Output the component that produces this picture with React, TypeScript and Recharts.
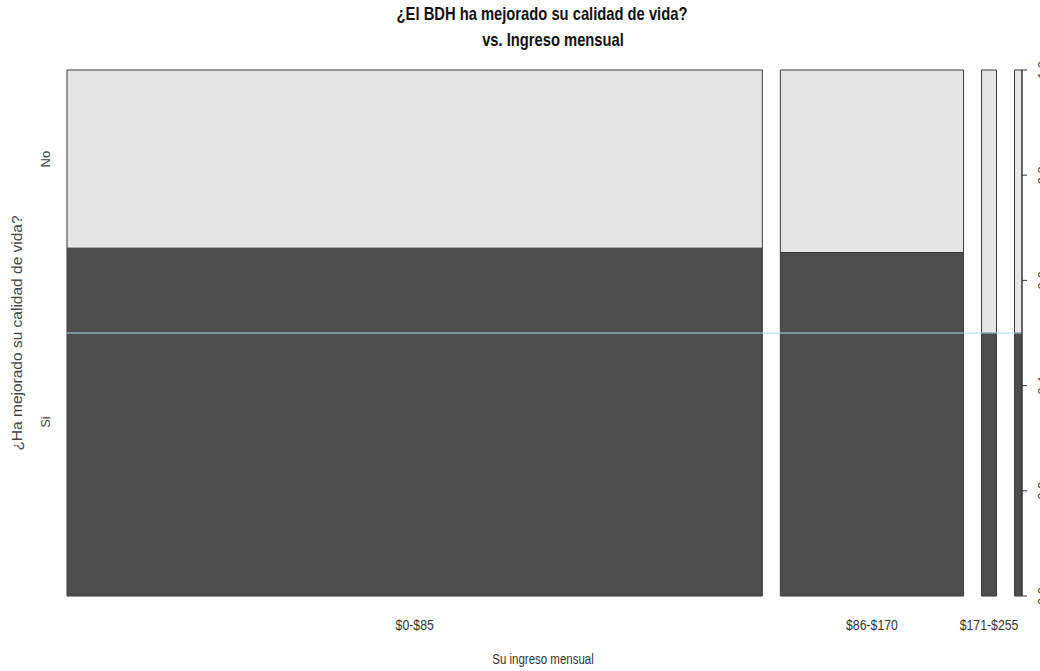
import React from 'react'
import { ComposedChart, XAxis, YAxis, Line, ReferenceArea, ReferenceLine } from 'recharts'

// spineplot: ¿El BDH ha mejorado su calidad de vida? vs. Ingreso mensual
const ingresos = ['$0-$85', '$86-$170', '$171-$255', '$256-$340']
const si = [123, 32, 2, 1]
const no = [63, 17, 2, 1]
const yTicks = [0, 0.2, 0.4, 0.6, 0.8, 1]
// R drops the last x label because it would overlap
const shownLabels = 3

const GAP = 0.02
const total = si.reduce((a, b) => a + b, 0) + no.reduce((a, b) => a + b, 0)

let acc = 0
const cells = ingresos.map((name, i) => {
  const n = si[i] + no[i]
  const w = n / total
  const x0 = acc + i * GAP
  acc += w
  return { name, x0, x1: x0 + w, mid: x0 + w / 2, siFrac: si[i] / n }
})
const xMax = 1 + GAP * (ingresos.length - 1)

const DARK = '#4d4d4d'
const LIGHT = '#e6e6e6'
const EDGE = '#3a3a3a'
const sans = '"Liberation Sans", Arial, sans-serif'
const SQUEEZE = 0.82 // the reference is squashed horizontally

// horizontal text, squeezed like the reference
const NarrowText = ({ x, y, size, bold, fill, children }: any) => (
  <g transform={`translate(${x}, ${y}) scale(${SQUEEZE}, 1)`}>
    <text x={0} y={0} textAnchor="middle" fontFamily={sans} fontSize={size}
      fontWeight={bold ? 'bold' : 'normal'} fill={fill}>
      {children}
    </text>
  </g>
)

const XTick = (props: any) => {
  const { x, y, payload } = props
  const c = cells.find((d) => Math.abs(d.mid - payload.value) < 1e-9)
  return <NarrowText x={x} y={y + 34} size={15} fill="#333">{c ? c.name : ''}</NarrowText>
}

const LeftTick = (props: any) => {
  const { x, y, payload } = props
  const label = payload.value < cells[0].siFrac ? 'Si' : 'No'
  return (
    <text x={x - 17} y={y} transform={`rotate(-90, ${x - 17}, ${y})`} textAnchor="middle"
      fontFamily={sans} fontSize={13} fill="#444">
      {label}
    </text>
  )
}

// the tick labels sit mostly beyond the right edge of the picture, as in the reference
const RightTick = (props: any) => {
  const { x, y, payload } = props
  const tx = x + 18
  return (
    <text x={tx} y={y} transform={`rotate(-90, ${tx}, ${y})`} textAnchor="middle"
      fontFamily={sans} fontSize={13} fill="#444">
      {Number(payload.value).toFixed(1)}
    </text>
  )
}

export default function App() {
  const first = cells[0]
  return (
    <div style={{ position: 'absolute', left: 0, top: 0, width: 1040, height: 671, background: '#fff' }}>
      <ComposedChart width={1040} height={671} data={cells} margin={{ top: 70, right: 0, bottom: 0, left: 0 }}>
        <XAxis
          type="number"
          dataKey="mid"
          domain={[0, xMax]}
          ticks={cells.slice(0, shownLabels).map((d) => d.mid)}
          tick={<XTick />}
          axisLine={false}
          tickLine={false}
          tickSize={0}
          tickMargin={0}
          height={75}
          interval={0}
        />
        <YAxis
          yAxisId="left"
          type="number"
          domain={[0, 1]}
          ticks={[first.siFrac / 2, first.siFrac + (1 - first.siFrac) / 2]}
          tick={<LeftTick />}
          axisLine={false}
          tickLine={false}
          tickSize={0}
          tickMargin={0}
          width={67}
          interval={0}
          allowDataOverflow
        />
        <YAxis
          yAxisId="right"
          orientation="right"
          type="number"
          domain={[0, 1]}
          ticks={yTicks}
          tick={<RightTick />}
          axisLine={{ stroke: '#333' }}
          tickLine={{ stroke: '#333' }}
          tickSize={5}
          width={18}
          interval={0}
          allowDataOverflow
        />
        {/* invisible series so both y axes get their scales */}
        <Line yAxisId="left" dataKey="siFrac" stroke="none" dot={false} activeDot={false} isAnimationActive={false} legendType="none" />
        <Line yAxisId="right" dataKey="siFrac" stroke="none" dot={false} activeDot={false} isAnimationActive={false} legendType="none" />
        {cells.map((c) => (
          <ReferenceArea key={c.name + '-si'} yAxisId="right" x1={c.x0} x2={c.x1} y1={0} y2={c.siFrac}
            fill={DARK} fillOpacity={1} stroke={EDGE} strokeWidth={1} />
        ))}
        {cells.map((c) => (
          <ReferenceArea key={c.name + '-no'} yAxisId="right" x1={c.x0} x2={c.x1} y1={c.siFrac} y2={1}
            fill={LIGHT} fillOpacity={1} stroke={EDGE} strokeWidth={1} />
        ))}
        <ReferenceLine yAxisId="right" y={0.5} stroke="#add8e6" strokeWidth={1.2} />
      </ComposedChart>
      <svg width={1040} height={671} style={{ position: 'absolute', left: 0, top: 0, pointerEvents: 'none' }}>
        <NarrowText x={542} y={20} size={18} bold fill="#111">¿El BDH ha mejorado su calidad de vida?</NarrowText>
        <NarrowText x={553} y={46} size={18} bold fill="#111">vs. Ingreso mensual</NarrowText>
        <NarrowText x={543} y={664} size={14} fill="#333">Su ingreso mensual</NarrowText>
        <text x={22} y={333} transform="rotate(-90, 22, 333)" textAnchor="middle" fontFamily={sans}
          fontSize={15.5} fill="#444">
          ¿Ha mejorado su calidad de vida?
        </text>
      </svg>
    </div>
  )
}
